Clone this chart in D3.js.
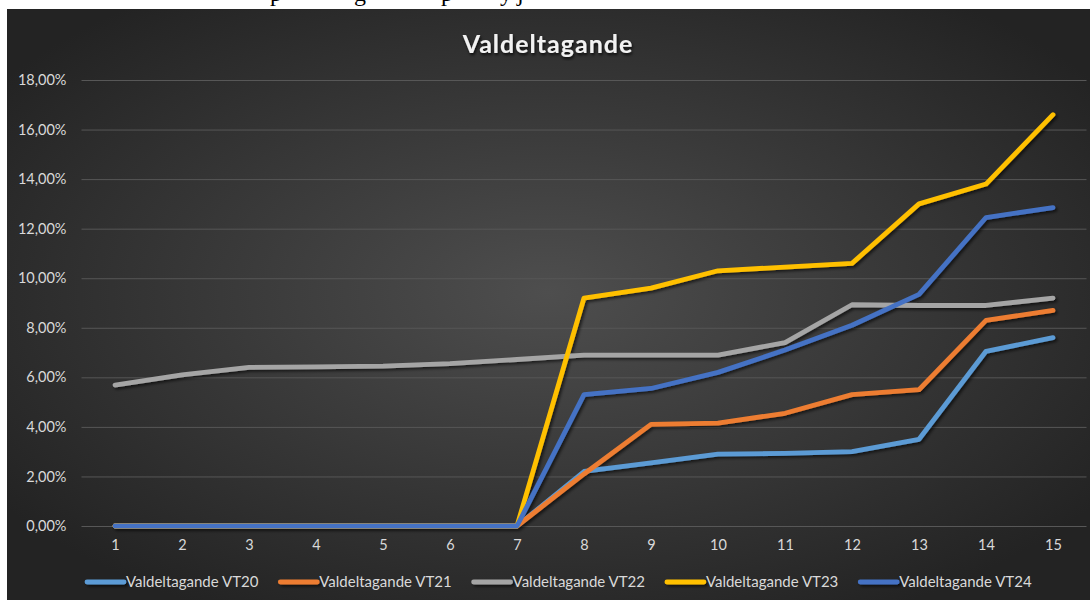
<!DOCTYPE html>
<html>
<head>
<meta charset="utf-8">
<script src="https://cdn.jsdelivr.net/npm/d3@7"></script>
<style>
  html, body { margin: 0; padding: 0; background: #fff; }
  svg { display: block; }
  text { font-family: Lato, "Open Sans", sans-serif; }
</style>
</head>
<body>
<div id="chart"></div>
<script>
// Data
const categories = [1, 2, 3, 4, 5, 6, 7, 8, 9, 10, 11, 12, 13, 14, 15];
const seriesNames = ["Valdeltagande VT20", "Valdeltagande VT21", "Valdeltagande VT22", "Valdeltagande VT23", "Valdeltagande VT24"];
const vt20 = [0, 0, 0, 0, 0, 0, 0, 2.2, 2.55, 2.9, 2.93, 3.0, 3.5, 7.05, 7.6];
const vt21 = [0, 0, 0, 0, 0, 0, 0, 2.1, 4.1, 4.15, 4.55, 5.3, 5.5, 8.3, 8.7];
const vt22 = [5.69, 6.1, 6.4, 6.42, 6.45, 6.55, 6.72, 6.9, 6.9, 6.9, 7.4, 8.93, 8.9, 8.9, 9.2];
const vt23 = [0, 0, 0, 0, 0, 0, 0, 9.2, 9.6, 10.3, 10.45, 10.6, 13.0, 13.8, 16.6];
const vt24 = [0, 0, 0, 0, 0, 0, 0, 5.3, 5.55, 6.2, 7.1, 8.1, 9.35, 12.45, 12.85];
const yTicks = [0, 2, 4, 6, 8, 10, 12, 14, 16, 18];
const colors = ["#5b9bd5", "#ed7d31", "#a5a5a5", "#ffc000", "#4472c4"];

const series = [vt20, vt21, vt22, vt23, vt24].map((values, i) => ({
    name: seriesNames[i], color: colors[i], values
}));

const width = 1091, height = 600;
const frame = {left: 7, top: 9, right: 1090, bottom: 600};
const plot = {left: 81.5, right: 1086.5, top: 80, bottom: 526};

const svg = d3.select("#chart").append("svg")
    .attr("width", width)
    .attr("height", height);

const defs = svg.append("defs");
const grad = defs.append("radialGradient")
    .attr("id", "bg")
    .attr("cx", "50%").attr("cy", "48%").attr("r", "62%");
grad.append("stop").attr("offset", "0%").attr("stop-color", "#4e4e4e");
grad.append("stop").attr("offset", "100%").attr("stop-color", "#232323");

// shadow filter in user space (big region) so flat lines keep their shadow
const shadow = defs.append("filter").attr("id", "shadow")
    .attr("filterUnits", "userSpaceOnUse")
    .attr("x", -1500).attr("y", -1500).attr("width", 3000).attr("height", 3000);
shadow.append("feDropShadow")
    .attr("dx", 2).attr("dy", 2).attr("stdDeviation", 1.5)
    .attr("flood-color", "#000").attr("flood-opacity", 0.6);

const titleShadow = defs.append("filter").attr("id", "tshadow");
titleShadow.append("feDropShadow")
    .attr("dx", 1).attr("dy", 2).attr("stdDeviation", 1.5)
    .attr("flood-color", "#000").attr("flood-opacity", 0.8);

// cut-off line of document text above the chart (only descenders visible)
const topText = svg.append("g").attr("fill", "#000");
[["p", 270], ["g", 354], ["p", 441], ["y", 500], ["j", 517]].forEach(([ch, x]) => {
    topText.append("text")
        .attr("x", x).attr("y", 1)
        .attr("font-size", 24)
        .style("font-family", "'Liberation Serif', serif")
        .text(ch);
});

svg.append("rect")
    .attr("x", frame.left).attr("y", frame.top)
    .attr("width", frame.right - frame.left)
    .attr("height", frame.bottom - frame.top)
    .attr("fill", "url(#bg)");

// Scales
const x = d3.scalePoint()
    .domain(categories)
    .range([plot.left, plot.right])
    .padding(0.5);

const y = d3.scaleLinear()
    .domain([0, 18])
    .range([plot.bottom, plot.top]);

// Gridlines
svg.append("g")
    .attr("class", "grid")
    .attr("transform", `translate(${plot.left},0)`)
    .call(d3.axisLeft(y).tickValues(yTicks).tickSize(-(plot.right - plot.left)).tickFormat(""))
    .call(g => g.select(".domain").remove())
    .call(g => g.selectAll("line").attr("stroke", "#575757").attr("stroke-width", 1));

// Y axis labels
svg.append("g")
    .attr("transform", `translate(${plot.left},0)`)
    .call(d3.axisLeft(y).tickValues(yTicks).tickSize(0).tickPadding(15)
        .tickFormat(d => d3.format(".2f")(d).replace(".", ",") + "%"))
    .call(g => g.select(".domain").remove())
    .call(g => g.selectAll("text")
        .attr("fill", "#d9d9d9")
        .attr("font-size", 14.5)
        .style("font-family", "Lato, sans-serif"));

// X axis labels
svg.append("g")
    .attr("transform", `translate(0,${plot.bottom})`)
    .call(d3.axisBottom(x).tickSize(0).tickPadding(14))
    .call(g => g.select(".domain").remove())
    .call(g => g.selectAll("text")
        .attr("fill", "#d9d9d9")
        .attr("font-size", 14.5)
        .style("font-family", "Lato, sans-serif"));

// Lines
const lineFn = d3.line()
    .x((d, i) => x(categories[i]))
    .y(d => y(d));

svg.append("g")
    .attr("filter", "url(#shadow)")
    .selectAll("path")
    .data(series)
    .join("path")
    .attr("d", d => lineFn(d.values))
    .attr("fill", "none")
    .attr("stroke", d => d.color)
    .attr("stroke-width", 4.8)
    .attr("stroke-linecap", "round")
    .attr("stroke-linejoin", "round");

// Title
svg.append("text")
    .attr("x", 548)
    .attr("y", 53)
    .attr("text-anchor", "middle")
    .attr("fill", "#f2f2f2")
    .attr("font-size", 25)
    .attr("font-weight", "bold")
    .attr("letter-spacing", 1)
    .attr("filter", "url(#tshadow)")
    .text("Valdeltagande");

// Legend
const legend = svg.append("g")
    .attr("transform", "translate(87,582)");
const item = legend.selectAll("g")
    .data(series)
    .join("g")
    .attr("transform", (d, i) => `translate(${i * 193.3},0)`);
item.append("line")
    .attr("x1", 0).attr("x2", 37)
    .attr("stroke", d => d.color)
    .attr("stroke-width", 4.8)
    .attr("stroke-linecap", "round")
    .attr("filter", "url(#shadow)");
item.append("text")
    .attr("x", 39)
    .attr("dy", "0.35em")
    .attr("fill", "#d9d9d9")
    .attr("font-size", 15)
    .text(d => d.name);
</script>
</body>
</html>
